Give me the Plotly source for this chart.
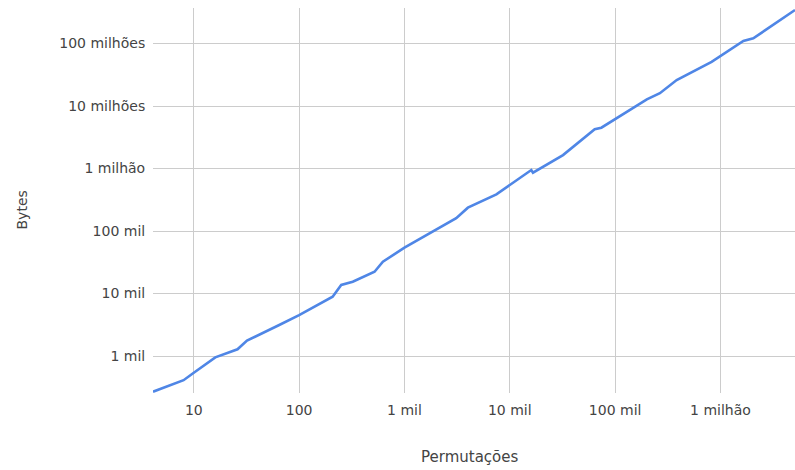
import math
import plotly.graph_objects as go

permutacoes = [4.1, 8, 10, 16, 26, 32, 64, 100, 208, 251, 323, 520, 624, 1000, 3100, 4000,
               7460, 16000, 16600, 32000, 64000, 74000, 200000, 266000, 384000, 824000,
               1650000, 2050000, 5100000]
bytes_ = [268, 410, 540, 950, 1280, 1760, 3100, 4500, 8900, 13700, 15400, 22300, 32300, 54000,
          160000, 236000, 386000, 946000, 857000, 1640000, 4240000, 4500000, 12800000,
          16000000, 26000000, 51000000, 110000000, 121000000, 344000000]

x_tickvals = [10, 100, 1000, 10000, 100000, 1000000]
x_ticktext = ["10", "100", "1 mil", "10 mil", "100 mil", "1 milhão"]
y_tickvals = [1000, 10000, 100000, 1000000, 10000000, 100000000]
y_ticktext = ["1 mil", "10 mil", "100 mil", "1 milhão", "10 milhões", "100 milhões"]

FONT = "DejaVu Sans"
TXT = "#444444"

fig = go.Figure()
fig.add_trace(go.Scatter(
    x=permutacoes, y=bytes_, mode="lines",
    line=dict(color="#4f86e6", width=2.6),
    hoverinfo="x+y", showlegend=False,
))

fig.update_layout(
    width=795, height=470,
    margin=dict(l=153, r=0, t=8, b=77),
    paper_bgcolor="white", plot_bgcolor="white",
    font=dict(family=FONT, size=14, color=TXT),
    xaxis=dict(
        type="log",
        range=[math.log10(4.1), math.log10(5.1e6)],
        tickvals=x_tickvals, ticktext=x_ticktext,
        showgrid=True, gridcolor="#cccccc", gridwidth=1,
        zeroline=False, showline=False,
        ticks="outside", ticklen=4, tickcolor="rgba(0,0,0,0)",
        tickfont=dict(family=FONT, size=14, color=TXT),
    ),
    yaxis=dict(
        type="log",
        range=[2.408, 8.568],
        tickvals=y_tickvals, ticktext=y_ticktext,
        showgrid=True, gridcolor="#cccccc", gridwidth=1,
        zeroline=False, showline=False,
        ticks="outside", ticklen=4, tickcolor="rgba(0,0,0,0)",
        tickfont=dict(family=FONT, size=14, color=TXT),
    ),
    annotations=[
        dict(text="Permutações", xref="paper", yref="paper", x=(469.5 - 153) / 642,
             y=-(456.7 - 393) / 385, xanchor="center", yanchor="middle",
             showarrow=False, font=dict(family=FONT, size=15, color=TXT)),
        dict(text="Bytes", xref="paper", yref="paper", x=-(153 - 21.5) / 642,
             y=(393 - 210) / 385, xanchor="center", yanchor="middle", textangle=-90,
             showarrow=False, font=dict(family=FONT, size=14, color=TXT)),
    ],
)

fig.write_html(
    "out.html",
    config={"displayModeBar": False},
    post_script="document.body.style.margin='0';document.body.style.overflow='hidden';",
)
